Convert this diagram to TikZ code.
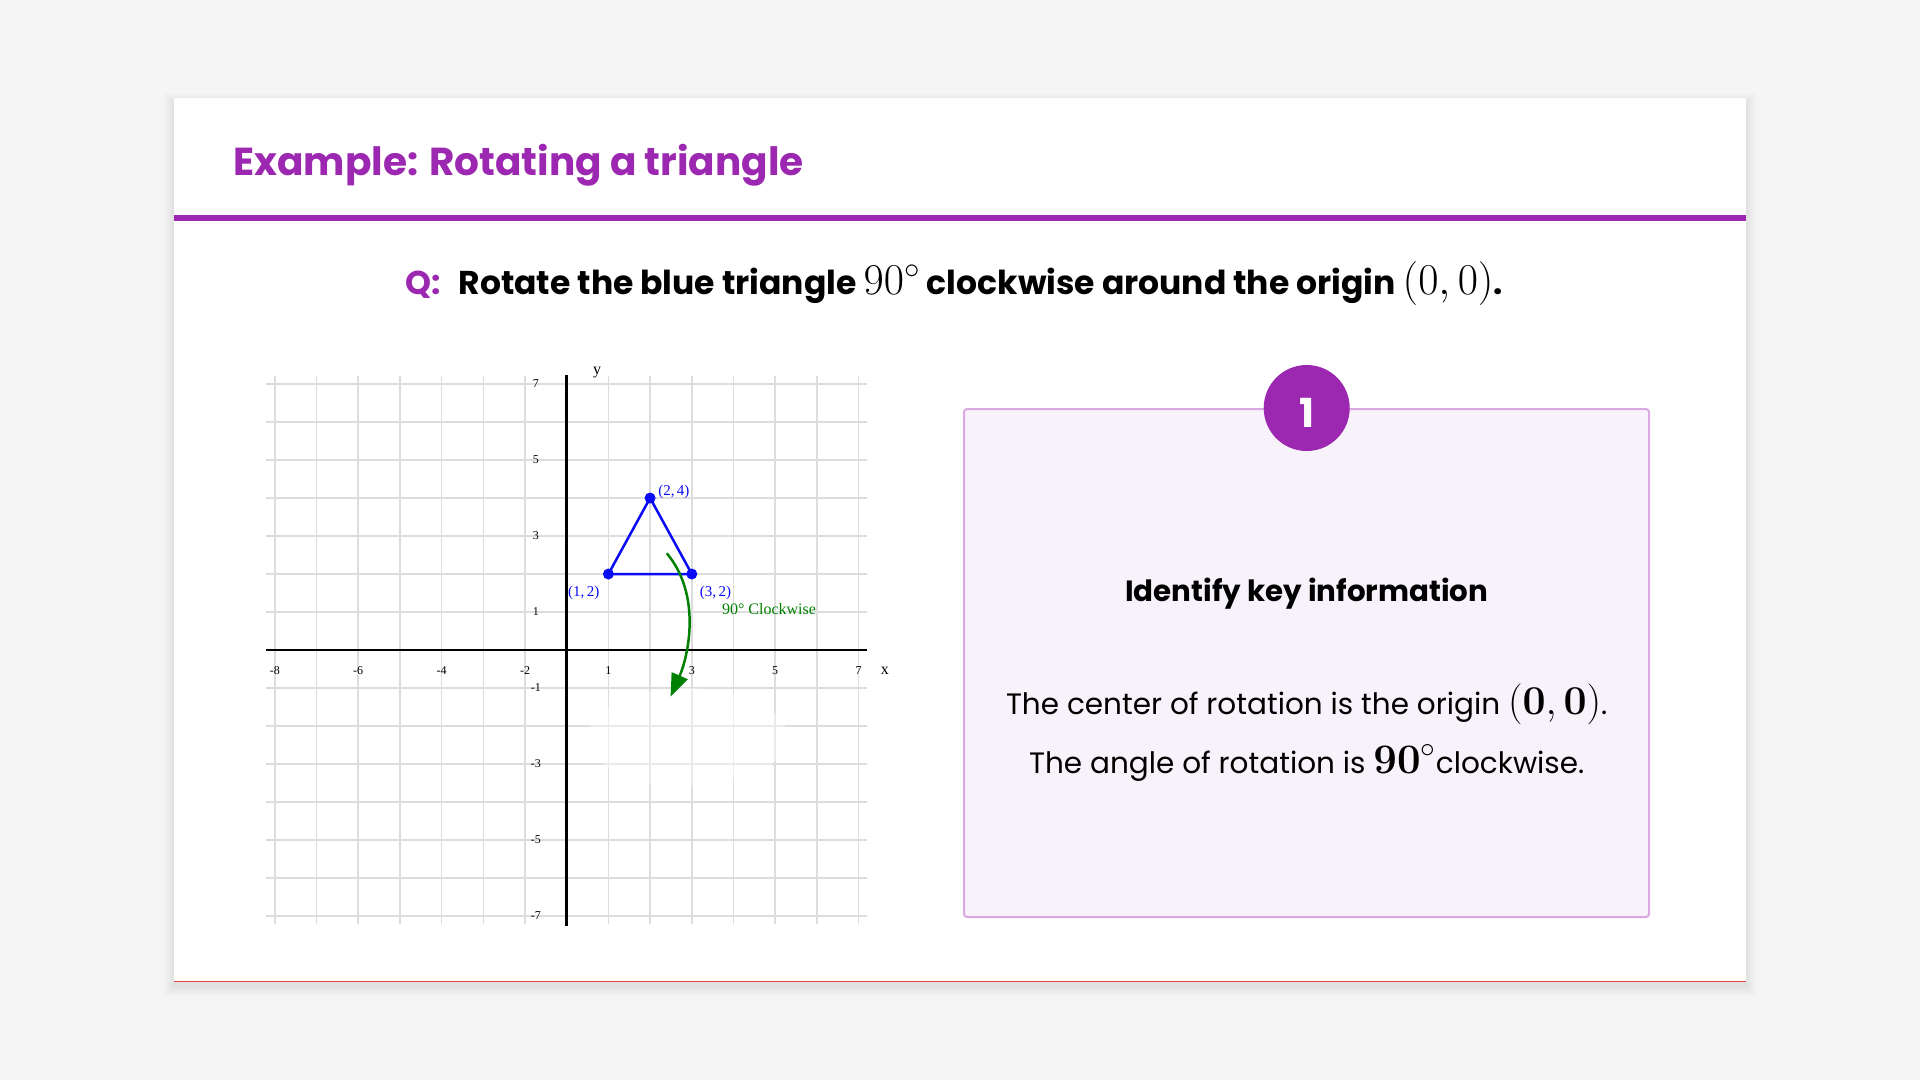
\RequirePackage{fix-cm}
\documentclass[tikz,border=0pt]{standalone}
\usepackage[no-math]{fontspec}
\setmainfont{Poppins}
\newfontfamily\graphfont{Liberation Serif}
\usetikzlibrary{arrows.meta}
\definecolor{pagegray}{HTML}{F5F5F5}
\definecolor{brandpurple}{HTML}{9C27B0}
\definecolor{boxfill}{HTML}{F8F3FA}
\definecolor{boxline}{HTML}{DAA8E2}
\definecolor{gridgray}{HTML}{DDDDDD}
\definecolor{triblue}{HTML}{0A0AF5}
\definecolor{arcgreen}{HTML}{008000}
\definecolor{edgered}{HTML}{E0483A}
\newcommand{\scaledmath}[2]{{\fontsize{#1}{#1}\selectfont$#2$}}

\begin{document}
\begin{tikzpicture}
  [x=1pt,y=-1pt,
   gridline/.style={draw=gridgray,line width=1.5pt},
   axisline/.style={draw=black,line width=2.5pt},
   ticklbl/.style={font=\graphfont\fontsize{12}{12}\selectfont,inner sep=0pt},
   vertex/.style={circle,fill=triblue,inner sep=0pt,minimum size=11pt},
   ptlbl/.style={font=\graphfont\fontsize{15}{15}\selectfont,text=triblue,inner sep=0pt},
   bodytext/.style={font=\fontsize{29.5}{34}\selectfont,inner sep=0pt,anchor=base}]

  % page and card
  \useasboundingbox (0,0) rectangle (1920,1080);
  \fill[pagegray] (0,0) rectangle (1920,1080);
  \foreach \s in {1,...,10}
    \fill[black,opacity=0.007] (174-\s,98-\s+5) rectangle (1746+\s,981+\s+5);
  \fill[white] (174,98) rectangle (1746,981);
  \draw[edgered,line width=1pt] (174,981) -- (1746,981);
  \fill[brandpurple] (174,215) rectangle (1746,221);

  \node[anchor=base west,inner sep=0pt,text=brandpurple,
        font=\bfseries\fontsize{39}{47}\selectfont] (title) at (233,175)
    {Example: Rotating a triangle};
  \node[anchor=base west,inner sep=0pt,font=\bfseries\fontsize{33}{40}\selectfont] (question) at (405,294)
    {\textcolor{brandpurple}{Q:}\hspace{18pt}Rotate the blue triangle \scaledmath{44}{90^\circ} clockwise around the origin \scaledmath{44}{(0,0)}.};

  % coordinate grid
  \begin{scope}[shift={(566.7,650)},x=41.7pt,y=38pt]
    \foreach \i in {-7,...,7} {
      \draw[gridline] (\i,-7.2) -- (\i,7.2);
      \draw[gridline] (-7.2,\i) -- (7.2,\i);
    }
    \fill[white,opacity=0.4] (2.9,-2.3) ellipse [x radius=2.4,y radius=1.3];
    \draw[axisline] (-7.2,0) -- (7.2,0);
    \draw[axisline] (0,-7.25) -- (0,7.25);
    \foreach \pos/\txt in {-7/-8,-5/-6,-3/-4,-1/-2,1/1,3/3,5/5,7/7}
      \node[ticklbl] (xt\txt) at (\pos,-0.55) {\txt};
    \foreach \pos in {7,5,3,1,-1,-3,-5,-7}
      \node[ticklbl] (yt\pos) at (-0.74,\pos) {\pos};
    \node[ticklbl,font=\graphfont\fontsize{16}{16}\selectfont] (ylbl) at (0.73,7.3) {y};
    \node[ticklbl,font=\graphfont\fontsize{16}{16}\selectfont] (xlbl) at (7.63,-0.545) {x};

    % triangle
    \node[vertex] (p12) at (1,2) {};
    \node[vertex] (p24) at (2,4) {};
    \node[vertex] (p32) at (3,2) {};
    \draw[triblue,line width=2.5pt,line join=round] (p12.center) -- (p24.center) -- (p32.center) -- cycle;
    \node[ptlbl] (l12) at (0.41,1.51) {(1,\,2)};
    \node[ptlbl] (l24) at (2.57,4.16) {(2,\,4)};
    \node[ptlbl] (l32) at (3.57,1.51) {(3,\,2)};

    % rotation arrow
    \coordinate (arcstart) at (2.40,2.545);
    \coordinate (arcend) at (2.49,-1.23);
    \draw[arcgreen,line width=2.5pt,-{Triangle[length=23pt,width=17pt]}]
      (arcstart) .. controls (3.24,1.45) and (2.92,-0.15) .. (arcend);
    \node[ptlbl,text=arcgreen,font=\graphfont\fontsize{16}{16}\selectfont,anchor=west] (rotlbl) at (3.72,1.08) {90° Clockwise};
  \end{scope}

  % step box
  \draw[boxline,fill=boxfill,line width=2pt,rounded corners=3pt] (964,409) rectangle (1649,917);
  \node[circle,fill=brandpurple,minimum size=86pt,inner sep=0pt] (badge) at (1306.7,408) {};
  \node[text=white,inner sep=0pt,font=\bfseries\fontsize{40}{40}\selectfont] (badgenum) at ([yshift=-5pt]badge.center) {1};
  \node[bodytext,font=\bfseries\fontsize{29.3}{36}\selectfont] (steptitle) at (1306.7,601) {Identify key information};
  \node[bodytext] (line1) at (1306.7,714) {The center of rotation is the origin \scaledmath{41}{(\mathbf{0},\mathbf{0})}.};
  \node[bodytext] (line2) at (1306.7,773) {The angle of rotation is \scaledmath{42}{\mathbf{90}^\circ}clockwise.};
\end{tikzpicture}
\end{document}
